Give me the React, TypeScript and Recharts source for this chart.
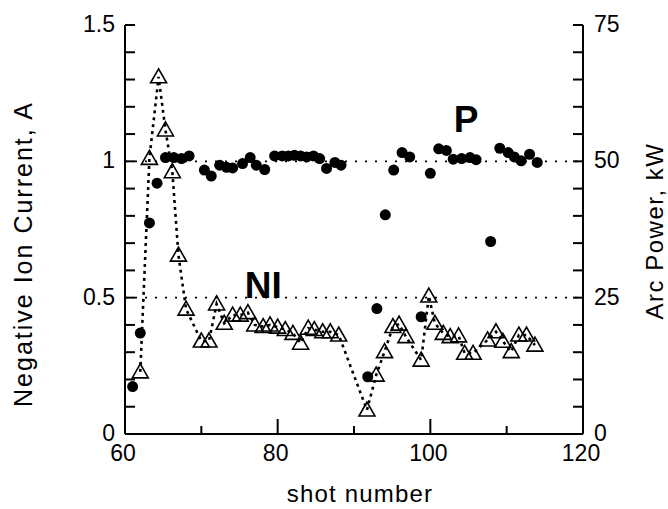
import React from 'react';
import { ScatterChart, Scatter, XAxis, YAxis, ReferenceLine, ReferenceDot, Label } from 'recharts';

const FONT = '"Liberation Sans", Arial, Helvetica, sans-serif';

// negative ion current (triangles, left axis, A)
const niShot = [
  62.0, 63.2, 64.4, 65.3, 66.2, 67.0, 68.0, 70.0, 71.0, 72.0, 73.0, 74.1, 75.1, 76.1, 77.0, 78.1,
  79.0, 80.0, 81.0, 82.0, 83.0, 84.0, 84.8, 85.9, 86.9, 88.0, 91.7, 92.9, 94.0, 95.1, 95.9, 96.8,
  98.8, 99.8, 100.6, 101.7, 102.6, 103.7, 104.5, 105.6, 107.5, 108.6, 109.5, 110.6, 111.6, 112.6, 113.7,
];
const niCurrent = [
  0.228, 1.011, 1.31, 1.115, 0.962, 0.656, 0.458, 0.341, 0.341, 0.477, 0.406, 0.436, 0.436, 0.445, 0.4, 0.394,
  0.4, 0.392, 0.383, 0.369, 0.333, 0.388, 0.383, 0.375, 0.375, 0.363, 0.088, 0.216, 0.302, 0.394, 0.403, 0.357,
  0.271, 0.506, 0.406, 0.369, 0.357, 0.36, 0.296, 0.296, 0.345, 0.375, 0.34, 0.302, 0.363, 0.363, 0.326,
];

// arc power (filled circles, right axis, kW)
const pShot = [
  61.0, 62.0, 63.2, 64.2, 65.3, 66.4, 67.4, 68.4, 70.4, 71.3, 72.4, 73.3, 74.1, 75.4, 76.4, 77.2,
  78.3, 79.6, 80.6, 81.4, 82.2, 83.0, 83.8, 84.7, 85.5, 86.4, 87.5, 88.3, 91.8, 93.0, 94.1, 95.2,
  96.3, 97.3, 98.8, 100.0, 101.1, 102.1, 103.0, 104.1, 105.2, 106.0, 107.9, 109.1, 110.2, 111.0, 111.9, 113.0, 114.0,
];
const pPower = [
  8.7, 18.5, 38.7, 46.0, 50.7, 50.7, 50.5, 51.0, 48.4, 47.3, 49.3, 48.9, 48.8, 49.6, 50.7, 49.3,
  48.5, 51.0, 51.0, 51.0, 51.1, 51.0, 50.8, 51.0, 50.5, 48.7, 49.8, 49.3, 10.5, 23.0, 40.2, 48.4,
  51.6, 50.8, 21.5, 47.8, 52.3, 52.0, 50.4, 50.5, 50.7, 50.3, 35.3, 52.4, 51.6, 50.8, 50.1, 51.3, 49.8,
];

const xTicks = [60, 70, 80, 90, 100, 110, 120];
const xLabels = [60, 80, 100, 120];
const leftTicks = [0, 0.1, 0.2, 0.3, 0.4, 0.5, 0.6, 0.7, 0.8, 0.9, 1, 1.1, 1.2, 1.3, 1.4, 1.5];
const leftLabels = [0, 0.5, 1, 1.5];
const rightTicks = [0, 5, 10, 15, 20, 25, 30, 35, 40, 45, 50, 55, 60, 65, 70, 75];
const rightLabels = [0, 25, 50, 75];

const niData = niShot.map((x, i) => ({ x, y: niCurrent[i] }));
const pData = pShot.map((x, i) => ({ x, y: pPower[i] }));

const TICK_FONT = 23;

const BottomTick = (props: any) => {
  const { x, y, payload } = props;
  const major = xLabels.includes(payload.value);
  return (
    <g>
      <line x1={x} y1={y} x2={x} y2={y - (major ? 15 : 8)} stroke="#000" strokeWidth={2} />
      {major && (
        <text x={x - 2} y={y + 27} textAnchor="middle" fontSize={TICK_FONT} fontFamily={FONT} fill="#000">
          {payload.value}
        </text>
      )}
    </g>
  );
};

const TopTick = (props: any) => {
  const { x, y, payload } = props;
  const major = xLabels.includes(payload.value);
  return <line x1={x} y1={y} x2={x} y2={y + (major ? 15 : 8)} stroke="#000" strokeWidth={2} />;
};

const LeftTick = (props: any) => {
  const { x, y, payload } = props;
  const major = leftLabels.some((v) => Math.abs(v - payload.value) < 1e-6);
  return (
    <g>
      <line x1={x} y1={y} x2={x + 10} y2={y} stroke="#000" strokeWidth={2} />
      {major && (
        <text x={x - 10} y={y + 7} textAnchor="end" fontSize={TICK_FONT} fontFamily={FONT} fill="#000">
          {payload.value}
        </text>
      )}
    </g>
  );
};

const RightTick = (props: any) => {
  const { x, y, payload } = props;
  const major = rightLabels.includes(payload.value);
  return (
    <g>
      <line x1={x} y1={y} x2={x - 10} y2={y} stroke="#000" strokeWidth={2} />
      {major && (
        <text x={x + 11} y={y + 7} textAnchor="start" fontSize={TICK_FONT} fontFamily={FONT} fill="#000">
          {payload.value}
        </text>
      )}
    </g>
  );
};

const Triangle = (props: any) => {
  const { cx, cy } = props;
  return (
    <polygon
      points={`${cx},${cy - 8} ${cx - 8},${cy + 6} ${cx + 8},${cy + 6}`}
      fill="none"
      stroke="#000"
      strokeWidth={1.6}
    />
  );
};

const Dot = (props: any) => <circle cx={props.cx} cy={props.cy} r={5.5} fill="#000" />;

const axisLine = { stroke: '#000', strokeWidth: 2 };

export default function App() {
  // absolute so the body margin does not push the page past the window height
  return (
    <div style={{ position: 'absolute', left: 8, top: 8, background: '#fff', width: 660, height: 500 }}>
      <ScatterChart width={660} height={500} margin={{ top: 17, right: 0, bottom: 0, left: 0 }}>
        <XAxis
          xAxisId="x"
          dataKey="x"
          type="number"
          domain={[60, 120]}
          ticks={xTicks}
          interval={0}
          tick={BottomTick}
          tickLine={false}
          tickSize={0}
          tickMargin={0}
          axisLine={axisLine}
          height={74}
        >
          <Label
            content={() => (
              <text x={352} y={494} textAnchor="middle" fontSize={24} fontFamily={FONT} letterSpacing={1.2} fill="#000">
                shot number
              </text>
            )}
          />
        </XAxis>
        <XAxis
          xAxisId="top"
          orientation="top"
          dataKey="x"
          type="number"
          domain={[60, 120]}
          allowDataOverflow
          ticks={xTicks}
          interval={0}
          tick={TopTick}
          tickLine={false}
          tickSize={0}
          tickMargin={0}
          axisLine={axisLine}
          height={0}
        />
        <YAxis
          yAxisId="left"
          dataKey="y"
          type="number"
          domain={[0, 1.5]}
          ticks={leftTicks}
          interval={0}
          tick={LeftTick}
          tickLine={false}
          tickSize={0}
          tickMargin={0}
          axisLine={axisLine}
          width={117}
        >
          <Label
            content={() => (
              <text
                x={24}
                y={246}
                transform="rotate(-90 24 246)"
                textAnchor="middle"
                fontSize={25}
                fontFamily={FONT}
                letterSpacing={2}
                fill="#000"
              >
                Negative Ion Current, A
              </text>
            )}
          />
        </YAxis>
        <YAxis
          yAxisId="right"
          orientation="right"
          dataKey="y"
          type="number"
          domain={[0, 75]}
          ticks={rightTicks}
          interval={0}
          tick={RightTick}
          tickLine={false}
          tickSize={0}
          tickMargin={0}
          axisLine={axisLine}
          width={85}
        >
          <Label
            content={() => (
              <text
                x={655}
                y={223}
                transform="rotate(-90 655 223)"
                textAnchor="middle"
                fontSize={24}
                fontFamily={FONT}
                letterSpacing={1.5}
                fill="#000"
              >
                Arc Power, kW
              </text>
            )}
          />
        </YAxis>
        <ReferenceLine xAxisId="x" yAxisId="left" y={1} stroke="#000" strokeWidth={1.8} strokeDasharray="2 8" />
        <ReferenceLine xAxisId="x" yAxisId="left" y={0.5} stroke="#000" strokeWidth={1.8} strokeDasharray="2 8" />
        <Scatter
          name="NI"
          data={niData}
          xAxisId="x"
          yAxisId="left"
          shape={Triangle}
          line={{ stroke: '#000', strokeWidth: 2.6, strokeDasharray: '3 4' }}
          lineType="joint"
          isAnimationActive={false}
        />
        <Scatter name="P" data={pData} xAxisId="x" yAxisId="right" shape={Dot} isAnimationActive={false} />
        <ReferenceDot
          xAxisId="x"
          yAxisId="left"
          x={104.7}
          y={1.157}
          r={0}
          fill="none"
          stroke="none"
          label={{ value: 'P', position: 'center', fontSize: 37, fontWeight: 'bold', fontFamily: FONT, fill: '#000' }}
        />
        <ReferenceDot
          xAxisId="x"
          yAxisId="left"
          x={78.1}
          y={0.546}
          r={0}
          fill="none"
          stroke="none"
          label={{ value: 'NI', position: 'center', fontSize: 37, fontWeight: 'bold', fontFamily: FONT, fill: '#000' }}
        />
      </ScatterChart>
    </div>
  );
}
